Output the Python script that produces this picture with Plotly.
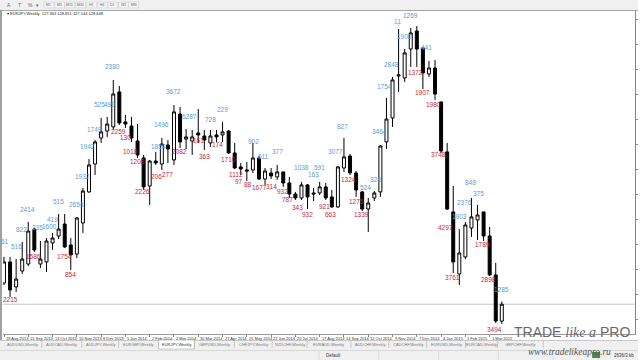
import plotly.graph_objects as go

# ---------------- data (EURJPY, Weekly) ----------------
bars = list(range(83))
opens = [130.26, 131.86, 129.96, 131.17, 131.70, 134.36, 131.70, 131.86, 133.30, 133.83,
         134.74, 133.15, 132.46, 134.82, 137.18, 139.30, 141.28, 141.81, 142.12, 144.78,
         142.50, 142.19, 141.05, 139.76, 137.63, 139.53, 139.30, 140.75, 139.61, 143.10,
         141.20, 141.05, 141.66, 141.43, 140.90, 141.51, 141.51, 141.81, 140.14, 139.08,
         138.85, 138.85, 139.76, 138.16, 138.62, 138.32, 138.70, 137.86, 137.02, 136.72,
         137.71, 137.10, 137.10, 137.56, 136.80, 136.04, 139.00, 139.91, 138.62, 137.18,
         135.88, 136.72, 137.18, 140.98, 142.80, 145.99, 145.84, 148.04, 149.41, 148.12,
         146.14, 146.60, 144.02, 140.22, 135.66, 130.94, 132.24, 134.44, 135.05, 135.66,
         133.83, 130.87, 127.363]
highs = [132.24, 132.24, 132.08, 133.38, 134.90, 134.44, 133.45, 133.68, 134.06, 135.50,
         135.50, 133.68, 135.28, 137.48, 139.68, 141.13, 142.80, 142.88, 145.69, 145.23,
         143.03, 142.88, 142.34, 139.99, 139.61, 140.22, 141.28, 141.13, 143.79, 143.64,
         141.96, 141.89, 143.48, 141.89, 141.89, 141.89, 142.50, 141.89, 140.90, 139.38,
         139.46, 140.90, 139.91, 139.00, 139.00, 139.23, 138.70, 138.32, 137.18, 137.94,
         137.78, 137.48, 137.94, 137.86, 137.33, 139.15, 141.28, 140.06, 138.77, 137.25,
         136.72, 137.25, 140.75, 144.32, 145.92, 149.56, 148.04, 149.64, 149.79, 148.12,
         147.13, 147.21, 144.02, 140.90, 137.63, 134.36, 134.90, 136.72, 136.19, 135.66,
         134.52, 131.78, 128.851]
lows = [130.11, 129.20, 129.58, 130.94, 131.55, 132.62, 131.40, 131.10, 132.77, 133.60,
        132.92, 131.25, 132.16, 134.06, 137.10, 138.47, 140.90, 141.36, 141.89, 142.27,
        142.04, 140.98, 139.76, 137.33, 136.19, 139.23, 138.85, 139.38, 139.23, 140.52,
        140.44, 139.99, 140.90, 140.37, 140.60, 140.98, 140.98, 140.06, 138.92, 138.47,
        138.01, 138.62, 138.09, 137.71, 138.16, 138.09, 137.56, 136.72, 136.57, 136.57,
        135.88, 136.49, 136.95, 136.57, 135.96, 135.96, 138.70, 138.47, 136.80, 135.73,
        134.14, 136.49, 136.80, 140.44, 142.12, 144.78, 145.54, 146.68, 146.68, 145.00,
        145.92, 144.17, 140.14, 135.81, 131.02, 130.11, 132.08, 133.76, 133.53, 133.45,
        130.79, 127.22, 127.144]
closes = [131.86, 129.73, 130.56, 132.08, 134.21, 132.77, 132.08, 133.45, 133.68, 134.36,
          133.00, 132.39, 135.20, 137.25, 139.23, 140.98, 141.74, 142.34, 144.62, 142.42,
          142.34, 141.28, 139.99, 137.56, 139.53, 139.38, 140.82, 140.44, 143.26, 140.98,
          141.36, 141.36, 141.51, 141.13, 141.43, 141.36, 141.74, 140.14, 139.00, 138.92,
          138.77, 139.76, 138.16, 138.77, 138.39, 138.70, 137.86, 137.02, 136.72, 137.71,
          136.80, 137.02, 137.56, 136.72, 136.04, 139.08, 139.84, 138.62, 137.33, 135.88,
          136.34, 137.10, 140.67, 142.72, 145.69, 146.07, 147.74, 149.26, 148.04, 146.22,
          146.60, 144.62, 140.29, 135.88, 131.86, 132.54, 134.67, 135.28, 135.43, 133.83,
          130.87, 127.37, 128.648]

date_idx = [0, 4, 8, 12, 16, 20, 24, 28, 32, 36, 40, 44, 48, 52, 56, 60, 64, 68, 72, 76, 80]
date_text = ["18 Aug 2013", "15 Sep 2013", "13 Oct 2013", "10 Nov 2013", "8 Dec 2013",
             "5 Jan 2014", "2 Feb 2014", "2 Mar 2014", "30 Mar 2014", "27 Apr 2014",
             "25 May 2014", "22 Jun 2014", "20 Jul 2014", "17 Aug 2014", "14 Sep 2014",
             "12 Oct 2014", "9 Nov 2014", "7 Dec 2014", "4 Jan 2015", "1 Feb 2015", "1 Mar 2015"]

# swing labels above highs (blue)
hi_txt = ["61", "516", "822", "2414", "335", "1600", "419", "515", "2654", "1932", "1942", "1749",
          "525", "499", "2380", "1854", "1496", "3672", "6287", "728", "229", "902", "611", "377",
          "1038", "163", "591", "3077", "827", "524", "328", "3464", "1754", "2848", "11", "1900",
          "1269", "441", "1903", "2376", "848", "375", "1285"]
hi_bar = [0.16, 2.13, 2.96, 3.94, 5.55, 7.55, 8.05, 9.03, 11.99, 12.97, 13.79, 14.94,
          15.75, 17.30, 17.90, 25.45, 25.94, 27.91, 30.54, 33.99, 35.96, 41.05, 42.69, 44.99,
          48.93, 50.90, 51.89, 54.68, 55.83, 59.55, 61.15, 61.90, 62.73, 63.88, 64.86, 66.01,
          66.99, 69.62, 75.04, 75.86, 76.90, 78.20, 81.94]
hi_price = [133.38, 133.07, 134.29, 135.88, 134.44, 134.52, 135.12, 136.42, 136.26, 138.32, 140.67, 141.96,
            143.86, 143.86, 146.68, 140.60, 142.27, 144.78, 142.88, 142.72, 143.41, 140.98, 139.84, 140.29,
            139.00, 138.54, 139.00, 140.22, 142.12, 137.48, 138.16, 141.74, 145.16, 146.83, 150.10, 148.96,
            150.55, 148.12, 135.28, 136.34, 137.86, 137.06, 129.73]

# swing labels below lows (red)
lo_txt = ["2215", "1586", "1754", "854", "2259", "130", "1018", "1208", "2226", "206", "277", "2082",
          "161", "363", "174", "1710", "1112", "97", "88", "1677", "314", "932", "787", "343", "932",
          "921", "663", "1324", "1275", "1339", "1372", "1907", "1980", "3748", "4297", "3761",
          "1789", "2898", "3494"]
lo_bar = [0.99, 4.93, 10.02, 11.00, 18.88, 20.03, 20.85, 22.00, 22.82, 25.12, 26.93, 28.90,
          32.02, 33.00, 35.14, 36.95, 38.26, 38.75, 40.23, 42.04, 44.01, 45.81, 46.75, 48.35, 49.92,
          52.87, 53.86, 56.81, 58.13, 58.95, 67.82, 68.97, 70.77, 71.59, 72.74, 73.89,
          78.82, 79.80, 80.79]
lo_price = [128.97, 132.31, 132.24, 130.94, 141.74, 141.28, 140.22, 139.46, 137.18, 138.39, 138.54, 140.22,
            141.05, 139.84, 140.82, 139.68, 138.54, 137.94, 137.71, 137.48, 137.63, 137.25, 136.57, 136.00, 135.43,
            136.11, 135.50, 138.16, 136.49, 135.50, 146.22, 144.70, 143.86, 139.99, 134.44, 130.64,
            133.15, 130.56, 126.76]

tabs = ["AUDUSD,Weekly", "AUDCAD,Weekly", "AUDJPY,Weekly", "EURGBP,Weekly", "EURJPY,Weekly",
        "GBPUSD,Weekly", "CHFJPY,Weekly", "NZDCHF,Weekly", "EURAUD,Weekly", "AUDCHF,Weekly",
        "CADCHF,Weekly", "EURUSD,Weekly", "EURCAD,Weekly", "GBPCHF,Weekly"]
timeframes = ["M1", "M5", "M15", "M30", "H1", "H4", "D1", "W1", "MN"]

# ---------------- layout helpers (UI chrome placement) ----------------
W, H = 640, 360
L, R, T, B = 3, 3, 11, 26
PW, PH = W - L - R, H - T - B


def px(X):
    return (X - L) / PW


def py(Y):
    return (H - B - Y) / PH


FONT = "Liberation Sans, Arial, sans-serif"
BLUE = "#5a9bd8"
RED = "#cc1d3c"

fig = go.Figure()
fig.add_trace(go.Candlestick(
    x=bars, open=opens, high=highs, low=lows, close=closes,
    increasing=dict(line=dict(color="black", width=1), fillcolor="white"),
    decreasing=dict(line=dict(color="black", width=1), fillcolor="black"),
    whiskerwidth=0, hoverinfo="skip", showlegend=False))

ann = []
for t, b_, p in zip(hi_txt, hi_bar, hi_price):
    ann.append(dict(x=b_, y=p, xref="x", yref="y", text=t, showarrow=False,
                    font=dict(family=FONT, size=6.5, color=BLUE), xanchor="center", yanchor="middle"))
for t, b_, p in zip(lo_txt, lo_bar, lo_price):
    ann.append(dict(x=b_, y=p, xref="x", yref="y", text=t, showarrow=False,
                    font=dict(family=FONT, size=6.5, color=RED), xanchor="center", yanchor="middle"))
for i, t in zip(date_idx, date_text):
    ann.append(dict(x=i, y=py(338), xref="x", yref="paper", text=t, showarrow=False,
                    font=dict(family=FONT, size=4, color="#333"), xanchor="left", yanchor="middle"))

shapes = []
# toolbar
shapes.append(dict(type="rect", xref="paper", yref="paper", x0=px(0), x1=px(640), y0=py(0), y1=py(10),
                   fillcolor="#f0f0f0", line=dict(width=0), layer="above"))
shapes.append(dict(type="line", xref="paper", yref="paper", x0=px(0), x1=px(640), y0=py(10.5), y1=py(10.5),
                   line=dict(color="#a8a8a8", width=1), layer="above"))
# left border
shapes.append(dict(type="rect", xref="paper", yref="paper", x0=px(0), x1=px(2), y0=py(10), y1=py(340),
                   fillcolor="#a0a0a0", line=dict(width=0), layer="above"))
# tab bar + status bar
shapes.append(dict(type="rect", xref="paper", yref="paper", x0=px(0), x1=px(640), y0=py(340), y1=py(360),
                   fillcolor="#f0f0f0", line=dict(width=0), layer="above"))
shapes.append(dict(type="line", xref="paper", yref="paper", x0=px(0), x1=px(640), y0=py(340.5), y1=py(340.5),
                   line=dict(color="#c8c8c8", width=1), layer="above"))
shapes.append(dict(type="line", xref="paper", yref="paper", x0=px(0), x1=px(640), y0=py(350.5), y1=py(350.5),
                   line=dict(color="#d8d8d8", width=1), layer="above"))
# bid line at last close
shapes.append(dict(type="line", xref="paper", yref="y", x0=0, x1=1, y0=closes[-1], y1=closes[-1],
                   line=dict(color="#c8c8c8", width=1), layer="below"))

# tabs
tab_edges = [3, 42, 82, 119, 159, 195, 235, 273, 308, 352, 390, 428, 467, 499, 545]
for k, t in enumerate(tabs):
    x0, x1 = tab_edges[k], tab_edges[k + 1]
    if t == "EURJPY,Weekly":
        shapes.append(dict(type="rect", xref="paper", yref="paper", x0=px(x0), x1=px(x1), y0=py(340), y1=py(349),
                           fillcolor="white", line=dict(color="#999", width=0.5), layer="above"))
    shapes.append(dict(type="line", xref="paper", yref="paper", x0=px(x1), x1=px(x1), y0=py(341), y1=py(348),
                       line=dict(color="#aaa", width=0.6), layer="above"))
    ann.append(dict(x=px((x0 + x1) / 2), y=py(344.5), xref="paper", yref="paper", text=t, showarrow=False,
                    font=dict(family=FONT, size=4, color="#333" if t == "EURJPY,Weekly" else "#777"),
                    xanchor="center", yanchor="middle"))

# status bar
for xs in [320, 380, 440, 500, 555, 600]:
    shapes.append(dict(type="line", xref="paper", yref="paper", x0=px(xs), x1=px(xs), y0=py(351), y1=py(360),
                       line=dict(color="#ccc", width=0.6), layer="above"))
ann.append(dict(x=px(325), y=py(355.5), xref="paper", yref="paper", text="Default", showarrow=False,
                font=dict(family=FONT, size=4.5, color="#333"), xanchor="left", yanchor="middle"))
ann.append(dict(x=px(638), y=py(355.5), xref="paper", yref="paper", text="2636/3 kb", showarrow=False,
                font=dict(family=FONT, size=4.5, color="#333"), xanchor="right", yanchor="middle"))
shapes.append(dict(type="rect", xref="paper", yref="paper", x0=px(594), x1=px(602), y0=py(352), y1=py(358),
                   fillcolor="#4a8a4a", line=dict(width=0), layer="above"))

# toolbar texts
tool_x = [9, 20, 31, 38]
for x, t in zip(tool_x, ["A", "T", "%", "▾"]):
    ann.append(dict(x=px(x), y=py(5), xref="paper", yref="paper", text=t, showarrow=False,
                    font=dict(family=FONT, size=5, color="#666"), xanchor="center", yanchor="middle"))
tf_x = [49, 60, 70, 81, 92, 103, 113, 124, 134]
for x, t in zip(tf_x, timeframes):
    shapes.append(dict(type="rect", xref="paper", yref="paper", x0=px(x - 5), x1=px(x + 5), y0=py(2), y1=py(8),
                       fillcolor="#f4f4f4", line=dict(color="#c8c8c8", width=0.5), layer="above"))
    ann.append(dict(x=px(x), y=py(5), xref="paper", yref="paper", text=t, showarrow=False,
                    font=dict(family=FONT, size=3.5, color="#666"), xanchor="center", yanchor="middle"))

# chart header
ann.append(dict(x=px(5), y=py(14), xref="paper", yref="paper",
                text="▾ EURJPY,Weekly  127.363 128.851 127.144 128.648", showarrow=False,
                font=dict(family=FONT, size=4, color="#222"), xanchor="left", yanchor="middle"))

# watermark
ann.append(dict(x=px(634), y=py(331.5), xref="paper", yref="paper",
                text="TRADE <span style='font-family:Liberation Serif'><i>like a</i></span> PRO", showarrow=False,
                font=dict(family=FONT, size=14, color="#6a6a6a"), xanchor="right", yanchor="middle"))
ann.append(dict(x=px(571), y=py(351.5), xref="paper", yref="paper",
                text="<i>www.tradelikeapro.ru</i>", showarrow=False,
                font=dict(family="Liberation Serif, serif", size=9.5, color="#555"), xanchor="center", yanchor="middle"))

fig.update_layout(
    width=W, height=H, margin=dict(l=L, r=R, t=T, b=B, pad=0),
    paper_bgcolor="white", plot_bgcolor="white",
    xaxis=dict(range=[-0.164, 103.94], rangeslider=dict(visible=False), showgrid=False, zeroline=False,
               showticklabels=False, ticks="outside", tickvals=date_idx, ticklen=2, tickcolor="#888",
               showline=True, linecolor="#999", linewidth=1),
    yaxis=dict(range=[126.384, 150.928], side="right", showgrid=False, zeroline=False, showticklabels=False,
               ticks="outside", ticklen=2, tickcolor="#888", dtick=1.9, tick0=150.25,
               showline=True, linecolor="#888", linewidth=1),
    annotations=ann, shapes=shapes, showlegend=False,
)

fig.write_html("out.html")
